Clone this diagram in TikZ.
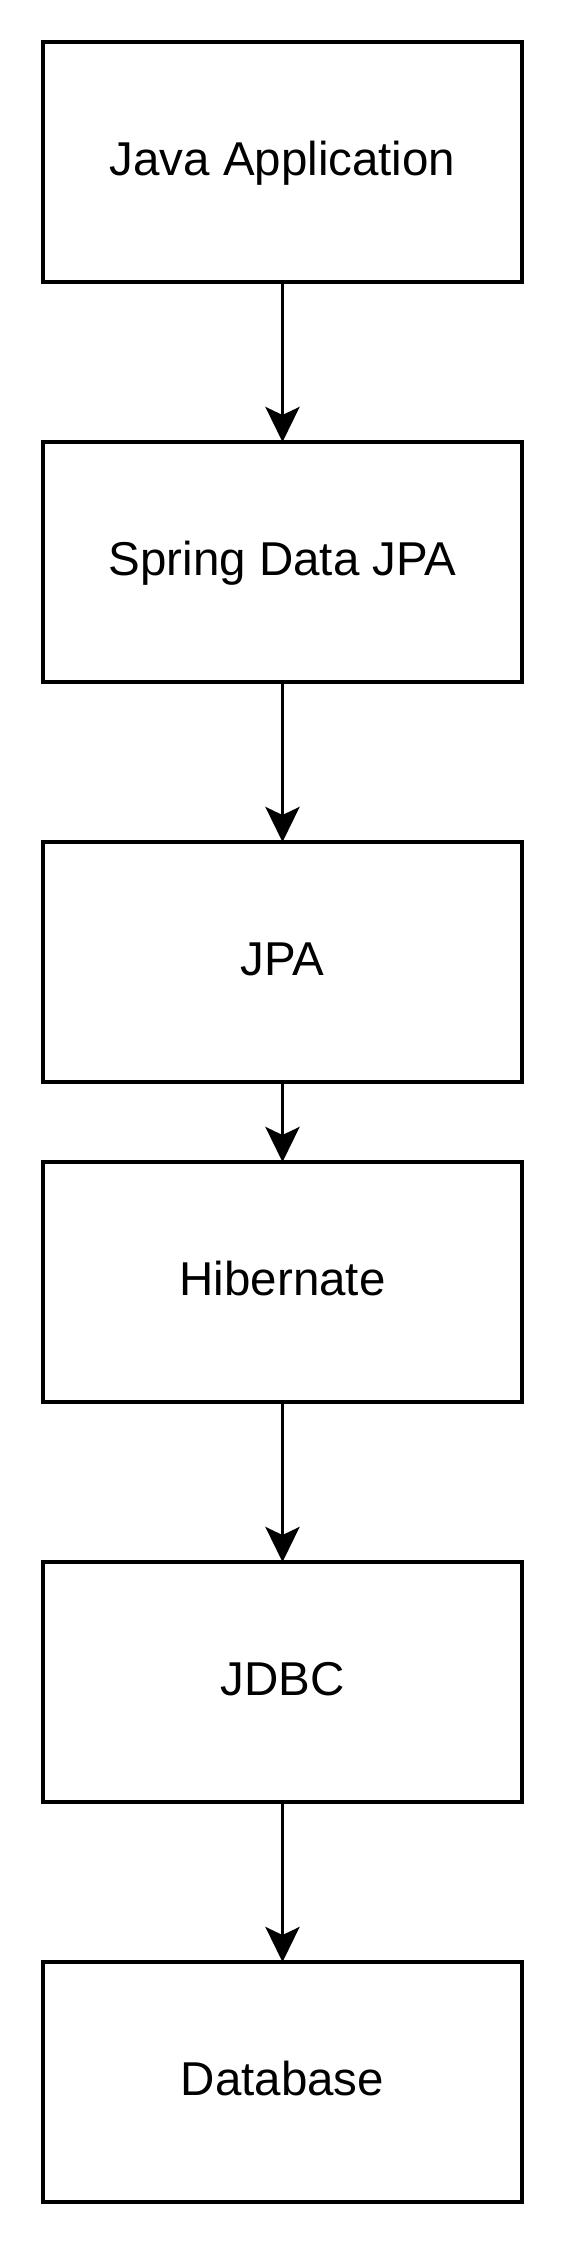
\documentclass[tikz,border=0pt]{standalone}
\usepackage{fontspec}
\setmainfont{Liberation Sans}
\usepackage{tikz}
\usetikzlibrary{arrows.meta,positioning}

\begin{document}
\begin{tikzpicture}[
  x=1pt,y=1pt,
  node distance=160pt,
  every node/.style={font=\fontsize{47.5}{57}\selectfont,align=center},
  layer/.style={draw=black,line width=3.6pt,fill=white,outer sep=0pt,minimum width=479pt,minimum height=240pt,text height=27pt,text depth=0pt},
  arr/.style={-{Stealth[length=35pt,width=34pt,inset=8pt]},line width=3.6pt,color=black}
]
\useasboundingbox (0,0) rectangle (564,-2244);
\node[layer] (app) at (282.5,-162) {Java Application};
\node[layer,below=of app] (sdj) {Spring Data JPA};
\node[layer,below=of sdj] (jpa) {JPA};
\node[layer,below=80pt of jpa] (hib) {Hibernate};
\node[layer,below=of hib] (jdbc) {JDBC};
\node[layer,below=of jdbc] (db) {Database};
\draw[arr] (app)--(sdj);
\draw[arr] (sdj)--(jpa);
\draw[arr] (jpa)--(hib);
\draw[arr] (hib)--(jdbc);
\draw[arr] (jdbc)--(db);
\end{tikzpicture}
\end{document}
